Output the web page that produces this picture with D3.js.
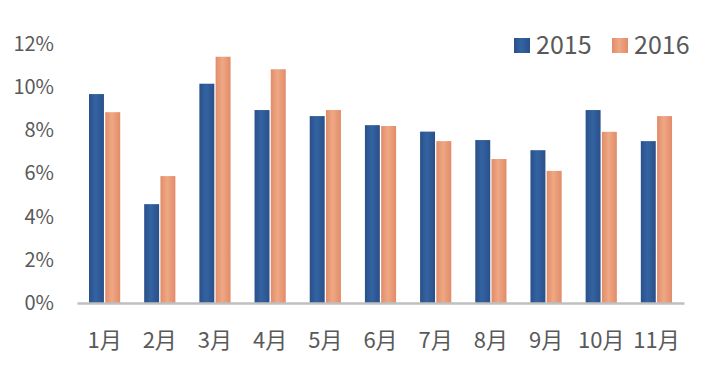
<!DOCTYPE html>
<html>
<head>
<meta charset="utf-8">
<script src="https://cdn.jsdelivr.net/npm/d3@7/dist/d3.min.js"></script>
<style>
  body { margin: 0; background: #fff; }
  text { font-family: "Noto Sans CJK SC", "Noto Sans", sans-serif; fill: #595959; }
</style>
</head>
<body>
<div id="chart"></div>
<script>
var months = ['1月', '2月', '3月', '4月', '5月', '6月', '7月', '8月', '9月', '10月', '11月'];
var seriesNames = ['2015', '2016'];
var values2015 = [9.68, 4.58, 10.16, 8.94, 8.66, 8.24, 7.94, 7.55, 7.08, 8.94, 7.5];
var values2016 = [8.84, 5.88, 11.41, 10.83, 8.94, 8.2, 7.5, 6.67, 6.12, 7.93, 8.66];
var yTicks = [0, 2, 4, 6, 8, 10, 12];

var width = 715, height = 381;
var colors = { '2015': ['#29508a', '#3463a2'], '2016': ['#e28b69', '#efa884'] };

var svg = d3.select('#chart')
  .append('svg')
  .attr('width', width)
  .attr('height', height);

// horizontal gradients, darker at the edges
var defs = svg.append('defs');
seriesNames.forEach(function(s) {
  var g = defs.append('linearGradient')
    .attr('id', 'grad' + s)
    .attr('x1', '0%').attr('x2', '100%').attr('y1', '0%').attr('y2', '0%');
  g.append('stop').attr('offset', '0%').attr('stop-color', colors[s][0]);
  g.append('stop').attr('offset', '45%').attr('stop-color', colors[s][1]);
  g.append('stop').attr('offset', '100%').attr('stop-color', colors[s][0]);
});

var x = d3.scaleBand().domain(months).range([77, 684]);
var x1 = d3.scaleBand().domain(seriesNames).range([12, 43.2]).paddingInner(0.08);
var y = d3.scaleLinear().domain([0, 12]).range([303, 44]);

// y-axis labels
var yAxis = svg.append('g')
  .attr('transform', 'translate(54,0)')
  .call(d3.axisLeft(y).tickValues(yTicks).tickSize(0).tickPadding(0)
    .tickFormat(function(d) { return d + '%'; }));
yAxis.select('.domain').remove();
yAxis.selectAll('text')
  .style('font-size', '20px')
  .style('fill', '#595959');

// bars
var data = months.map(function(m, i) {
  return { month: m, vals: [{ s: '2015', v: values2015[i] }, { s: '2016', v: values2016[i] }] };
});

var groups = svg.selectAll('.group')
  .data(data)
  .enter().append('g')
  .attr('transform', function(d) { return 'translate(' + x(d.month) + ',0)'; });

groups.selectAll('rect')
  .data(function(d) { return d.vals; })
  .enter().append('rect')
  .attr('x', function(d) { return x1(d.s); })
  .attr('width', x1.bandwidth())
  .attr('y', function(d) { return y(d.v); })
  .attr('height', function(d) { return y(0) - y(d.v); })
  .attr('fill', function(d) { return 'url(#grad' + d.s + ')'; });

// x-axis
var xAxis = svg.append('g')
  .attr('transform', 'translate(0,' + y(0) + ')')
  .call(d3.axisBottom(x).tickSize(0).tickPadding(29));
xAxis.select('.domain')
  .attr('stroke', '#bfbfbf')
  .attr('stroke-width', 2.5);
xAxis.selectAll('text')
  .style('font-size', '22px')
  .style('fill', '#595959');

// legend
var legend = svg.append('g');
var legendX = [514, 612];
seriesNames.forEach(function(s, i) {
  legend.append('rect')
    .attr('x', legendX[i]).attr('y', 38)
    .attr('width', 16).attr('height', 15)
    .attr('fill', 'url(#grad' + s + ')');
  legend.append('text')
    .attr('x', legendX[i] + 22).attr('y', 54)
    .style('font-size', '25px')
    .text(s);
});
</script>
</body>
</html>
